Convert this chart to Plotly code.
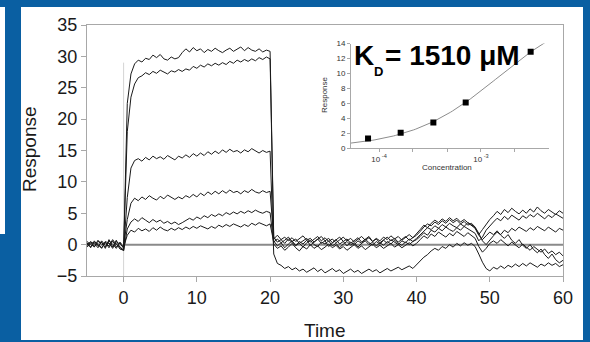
import plotly.graph_objects as go

# ---------------- sensorgram data ----------------
# sampling times, 0.5 s spacing from -5 to 60
time = [-5 + 0.5 * i for i in range(131)]

# six injections (baseline | association 0.5-20 | dissociation 20.5-60)
resp_1 = ([0.3, -0.5, 0.6, -0.2, 0.4, -0.6, 0.8, -0.3, 0.2, -0.7, -0.9]
          + [22.5, 27.2, 28.8, 29.4, 29.1, 29.7, 29.5, 30.2, 29.8, 30.3,
             29.6, 29.4, 29.9, 29.6, 29.8, 30.6, 31.2, 30.7, 31.4, 30.9,
             31.2, 30.6, 31.1, 30.8, 31.3, 30.9, 30.6, 31.0, 31.3, 30.8,
             31.1, 31.5, 30.9, 31.4, 31.0, 30.8, 31.2, 30.7, 31.0, 30.8]
          + [1.2, 0.4, 0.8, 0.2, 0.9, 0.3, -0.2, 0.5, 0.1, 0.7,
             -0.1, 0.4, 0.9, 0.2, 0.6, -0.3, 0.3, 0.8, 0.1, 0.5,
             -0.2, 0.4, 0.0, 0.6, 0.2, 0.9, 0.3, -0.1, 0.5, 0.1,
             0.7, 0.2, 0.8, 0.4, 0.0, 0.6, 0.3, 0.9, 0.5, 1.0]
          + [1.6, 2.2, 2.7, 2.4, 3.0, 2.6, 3.2, 2.8, 3.4, 3.0, 2.7, 3.3, 2.9, 3.5, 3.1, 2.6]
          + [1.5, 0.8, 1.4, 2.0]
          + [1.6, 2.2, 1.5, 1.0, 1.6, 0.7, 0.2, 0.8, -0.1, -0.6,
             0.0, -0.8, -1.3, -0.7, -1.6, -2.2, -1.5, -2.4, -2.9, -2.5])

resp_2 = ([-0.2, 0.5, -0.4, 0.7, -0.1, 0.4, -0.5, 0.6, -0.4, 0.3, -0.6]
          + [18.0, 23.5, 25.6, 26.6, 26.9, 27.4, 27.1, 27.6, 27.3, 27.8,
             27.5, 27.2, 27.7, 27.5, 27.9, 27.6, 28.0, 27.8, 28.4, 28.1,
             28.6, 28.3, 28.8, 28.5, 28.9, 28.6, 29.0, 28.7, 29.2, 28.9,
             29.4, 29.1, 29.5, 29.2, 29.6, 29.3, 29.8, 29.5, 29.9, 29.6]
          + [0.6, -0.2, 0.3, -0.5, 0.1, 0.6, -0.1, 0.2, -0.4, 0.3,
             0.7, 0.0, -0.3, 0.4, 0.1, 0.6, -0.2, 0.2, -0.5, 0.1,
             0.5, -0.1, 0.3, -0.4, 0.2, 0.6, 0.0, 0.4, -0.2, 0.3,
             -0.1, 0.5, 0.1, 0.7, 0.2, -0.1, 0.4, 0.0, 0.5, 0.8]
          + [1.3, 1.9, 1.5, 2.3, 2.0, 2.6, 2.2, 2.8, 2.4, 2.1, 2.7, 2.3, 2.9, 2.5, 2.2, 1.8]
          + [0.6, 1.2, 2.3, 3.0]
          + [3.6, 4.2, 3.8, 4.5, 4.0, 4.7, 4.3, 3.9, 4.6, 4.2,
             4.8, 4.4, 5.0, 4.5, 4.1, 4.7, 4.3, 4.9, 4.5, 4.2])

resp_3 = ([0.1, -0.3, 0.4, 0.0, -0.6, 0.5, 0.2, -0.4, 0.7, -0.5, -0.8]
          + [7.5, 12.2, 13.4, 13.7, 13.3, 13.9, 13.5, 14.1, 13.7, 14.0,
             13.6, 14.2, 13.8, 13.5, 14.1, 13.8, 14.3, 13.9, 14.5, 14.1,
             14.6, 14.2, 14.8, 14.4, 14.9, 14.5, 15.1, 14.7, 15.2, 14.8,
             15.0, 14.6, 15.1, 14.8, 15.3, 14.9, 14.6, 15.0, 14.7, 14.9]
          + [-1.5, -3.0, -3.3, -3.8, -3.5, -4.0, -3.7, -4.2, -3.9, -4.4,
             -4.0, -3.7, -4.3, -3.9, -4.5, -4.1, -3.8, -4.3, -4.0, -4.6,
             -4.2, -3.9, -4.4, -4.1, -4.6, -4.2, -3.9, -4.3, -4.0, -4.5,
             -4.1, -3.8, -4.2, -3.9, -3.6, -4.0, -3.7, -3.4, -3.8, -3.2]
          + [-2.6, -2.0, -1.6, -1.0, -0.6, -0.9, -0.3, -0.6, 0.0, -0.4, 0.2, -0.2, 0.3, -0.1, 0.2, -0.3]
          + [-1.5, -2.8, -3.8, -4.2]
          + [-3.6, -3.9, -3.4, -3.8, -3.3, -3.6, -3.1, -3.5, -3.0, -3.4,
             -2.9, -3.3, -3.6, -3.1, -3.4, -2.9, -3.3, -3.0, -3.5, -3.2])

resp_4 = ([-0.4, 0.2, -0.1, 0.5, 0.3, -0.4, 0.6, 0.1, -0.6, 0.4, -0.3]
          + [4.0, 6.6, 7.4, 7.0, 7.6, 7.2, 7.8, 7.4, 7.1, 7.7,
             7.3, 7.9, 7.5, 7.2, 7.6, 7.3, 7.8, 7.5, 8.0, 7.6,
             8.2, 7.8, 8.4, 8.0, 8.5, 8.1, 8.6, 8.2, 8.7, 8.3,
             8.5, 8.1, 8.6, 8.3, 8.8, 8.4, 8.2, 8.6, 8.3, 8.5]
          + [0.9, 1.5, 0.8, 1.2, 0.6, 1.1, 0.5, 0.9, 1.4, 0.7,
             1.0, 0.4, 0.8, 1.3, 0.6, 1.0, 0.3, 0.7, 1.2, 0.5,
             0.9, 0.2, 0.6, 1.1, 0.4, 0.8, 1.3, 0.5, 0.9, 0.3,
             0.7, 1.2, 0.6, 1.0, 0.4, 0.8, 1.3, 0.7, 1.1, 1.5]
          + [2.1, 2.8, 3.3, 3.0, 3.6, 3.2, 3.8, 3.4, 4.0, 3.5, 3.9, 3.3, 3.7, 3.1, 3.4, 2.8]
          + [1.8, 0.6, 0.0, 0.8]
          + [1.4, 2.0, 1.6, 2.3, 1.9, 2.6, 2.2, 2.8, 2.4, 2.1,
             2.7, 2.3, 2.9, 2.5, 2.2, 2.8, 2.4, 2.0, 2.6, 2.3])

resp_5 = ([0.5, 0.0, -0.3, 0.2, -0.5, 0.3, -0.2, 0.8, 0.0, -0.3, -1.0]
          + [2.5, 3.6, 4.1, 3.7, 4.3, 3.9, 3.5, 4.0, 3.6, 3.9,
             3.4, 3.7, 3.3, 3.6, 3.2, 3.5, 3.8, 4.2, 3.9, 4.4,
             4.1, 4.6, 4.3, 4.8, 4.5, 4.9, 4.6, 5.1, 4.8, 5.2,
             4.9, 5.3, 5.0, 5.4, 5.1, 5.5, 5.2, 5.0, 5.3, 5.1]
          + [0.1, -0.6, -0.2, -0.9, -0.4, 0.2, -0.5, -1.0, -0.3, -0.7,
             0.0, -0.6, -0.2, -0.8, -0.4, 0.1, -0.5, -0.1, -0.7, -0.3,
             -0.9, -0.4, 0.0, -0.6, -0.2, -0.8, -0.3, 0.1, -0.5, -0.1,
             -0.6, -0.2, 0.2, -0.4, 0.0, -0.5, -0.1, 0.3, -0.2, 0.2]
          + [0.8, 1.4, 1.0, 1.7, 1.3, 2.0, 1.6, 1.2, 1.8, 1.4, 2.1, 1.7, 1.3, 1.9, 1.5, 1.0]
          + [-0.3, -1.2, -0.6, 0.2]
          + [0.6, 0.2, 0.8, 0.3, -0.2, 0.4, 0.0, -0.5, 0.1, -0.4,
             -0.9, -0.3, -0.8, -1.2, -0.7, -1.4, -1.0, -1.6, -1.2, -1.8])

resp_6 = ([0.0, 0.4, 0.2, -0.5, 0.6, -0.1, 0.3, -0.6, 0.5, 0.1, -0.4]
          + [1.5, 2.3, 2.0, 2.6, 2.2, 2.5, 2.1, 2.7, 2.3, 2.8,
             2.4, 2.2, 2.6, 2.3, 2.7, 2.4, 2.8, 2.5, 2.9, 2.6,
             3.0, 2.7, 2.5, 2.9, 2.6, 3.1, 2.8, 3.2, 2.9, 3.3,
             3.0, 2.8, 3.2, 2.9, 3.4, 3.1, 3.5, 3.2, 3.0, 3.3]
          + [0.4, 0.9, 0.3, 0.7, 1.2, 0.5, 0.9, 0.2, 0.6, 1.0,
             0.4, 0.8, 1.3, 0.6, 1.1, 0.5, 0.9, 0.3, 0.8, 1.2,
             0.6, 1.0, 0.4, 0.9, 1.3, 0.7, 1.1, 0.5, 1.0, 0.6,
             1.2, 0.8, 1.4, 0.9, 1.3, 0.7, 1.2, 1.6, 1.1, 1.7]
          + [2.4, 3.1, 2.7, 3.4, 3.9, 3.5, 4.1, 3.7, 4.3, 3.8, 4.2, 3.6, 4.0, 3.5, 3.2, 2.7]
          + [1.6, 2.4, 3.3, 4.0]
          + [4.6, 5.3, 4.8, 5.6, 5.1, 5.8, 5.3, 4.9, 5.5, 5.0,
             5.7, 5.2, 6.0, 5.4, 5.0, 5.6, 5.2, 4.8, 5.4, 5.0])

# ---------------- steady-state affinity data ----------------
conc = [7.8e-5, 1.63e-4, 3.41e-4, 7.08e-4, 3.07e-3]
conc_resp = [1.28, 2.05, 3.43, 6.08, 12.9]
KD_uM = 1510
RMAX = 19.2

# ---------------- layout helpers (pixel -> paper) ----------------
W, H = 590, 342
ML, MR, MT, MB = 87, 27, 25, 66
PW, PH = W - ML - MR, H - MT - MB


def px(x):
    return (x - ML) / PW


def py(y):
    return (H - MB - y) / PH


BLUE = "#0a5fa2"
AXIS = "#a8a8a8"
INK = "#1a1a1a"
FONT = "Liberation Sans, Arial, sans-serif"

fig = go.Figure()

for r in [resp_1, resp_2, resp_3, resp_4, resp_5, resp_6]:
    fig.add_trace(go.Scatter(x=time, y=r, mode="lines",
                             line=dict(color=INK, width=1),
                             showlegend=False, hoverinfo="skip"))

# Langmuir fit through the affinity points
kd_m = KD_uM * 1e-6
fit_x = [10 ** (-4.3 + k * 0.02) for k in range(101)]
fit_y = [RMAX * c / (kd_m + c) for c in fit_x]
fig.add_trace(go.Scatter(x=fit_x, y=fit_y, mode="lines", xaxis="x2", yaxis="y2",
                         line=dict(color="#8c8c8c", width=1),
                         showlegend=False, hoverinfo="skip"))
fig.add_trace(go.Scatter(x=conc, y=conc_resp, mode="markers", xaxis="x2", yaxis="y2",
                         marker=dict(symbol="square", size=6, color="black"),
                         showlegend=False, hoverinfo="skip"))

shapes = [
    # white panel on blue frame
    dict(type="rect", xref="paper", yref="paper", layer="below",
         x0=px(21), x1=px(583), y0=py(340), y1=py(7),
         fillcolor="white", line=dict(width=0)),
    dict(type="rect", xref="paper", yref="paper", layer="below",
         x0=px(0), x1=px(5), y0=py(234), y1=py(7),
         fillcolor="white", line=dict(width=0)),
    # injection marker and zero baseline
    dict(type="line", xref="x", yref="y", x0=0, x1=0, y0=-5, y1=29, layer="below",
         line=dict(color="#d4d4d4", width=1)),
    dict(type="line", xref="x", yref="y", x0=0, x1=60, y0=0, y1=0, layer="below",
         line=dict(color="#8a8a8a", width=2)),
]


def label(text, x, y, size, color=INK, angle=0, xanchor="center", yanchor="middle"):
    return dict(text=text, xref="paper", yref="paper", x=px(x), y=py(y),
                xanchor=xanchor, yanchor=yanchor, textangle=angle, showarrow=False,
                font=dict(family=FONT, size=size, color=color))


annotations = [
    label("Time", 325, 330, 19),
    label("Response", 29, 149, 19, angle=-90),
    label("Response", 324, 95, 8, color="#333", angle=-90),
    label("Concentration", 447, 168, 8, color="#333"),
    label("<b>K</b>", 352, 55, 28, color="black", xanchor="left"),
    label("<b>D</b>", 372, 72, 13, color="black", xanchor="left"),
    label("<b>= 1510 μM</b>", 383, 55, 28, color="black", xanchor="left"),
]

fig.update_layout(
    width=W, height=H,
    margin=dict(l=ML, r=MR, t=MT, b=MB),
    paper_bgcolor=BLUE, plot_bgcolor="white",
    font=dict(family=FONT, color=INK),
    shapes=shapes, annotations=annotations,
    xaxis=dict(range=[-5, 60], tickvals=[0, 10, 20, 30, 40, 50, 60],
               ticks="outside", ticklen=5, tickcolor=AXIS,
               showline=True, linecolor=AXIS, linewidth=1, mirror=True,
               showgrid=False, zeroline=False,
               tickfont=dict(size=18, color=INK)),
    yaxis=dict(range=[-5, 35], tickvals=[-5, 0, 5, 10, 15, 20, 25, 30, 35],
               ticks="outside", ticklen=5, tickcolor=AXIS,
               showline=True, linecolor=AXIS, linewidth=1, mirror=True,
               showgrid=False, zeroline=False,
               tickfont=dict(size=18, color=INK)),
    xaxis2=dict(type="log", range=[-4.275, -2.333],
                domain=[px(351), px(549)], anchor="y2",
                tickvals=[1e-4, 1e-3], ticktext=["10<sup> -4</sup>", "10<sup> -3</sup>"],
                ticks="outside", ticklen=3, tickcolor=AXIS,
                minor=dict(tickvals=[10 ** -3.667, 10 ** -3.333, 10 ** -2.667],
                           ticks="outside", ticklen=3, tickcolor=AXIS),
                showline=True, linecolor=AXIS, linewidth=1,
                showgrid=False, zeroline=False,
                tickfont=dict(size=8, color="#333")),
    yaxis2=dict(range=[0, 14], tickvals=[0, 2, 4, 6, 8, 10, 12, 14],
                domain=[py(148), py(43.5)], anchor="x2",
                ticks="outside", ticklen=3, tickcolor=AXIS,
                showline=True, linecolor=AXIS, linewidth=1,
                showgrid=False, zeroline=False,
                tickfont=dict(size=8, color="#333")),
)

fig.write_html("out.html")
